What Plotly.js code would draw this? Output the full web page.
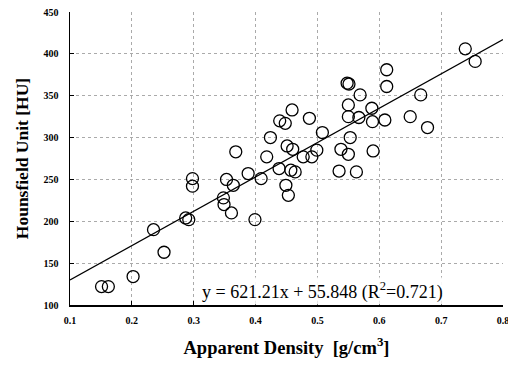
<!DOCTYPE html>
<html>
<head>
<meta charset="utf-8">
<script src="https://cdn.plot.ly/plotly-3.0.1.min.js"></script>
<style>html,body{margin:0;padding:0;background:#fff;}#chart{width:508px;height:368px;}</style>
</head>
<body>
<div id="chart"></div>
<script>
const densityX = [0.151,0.162,0.202,0.235,0.252,0.287,0.292,0.298,0.298,0.348,0.349,0.353,0.361,0.364,0.368,0.388,0.399,0.409,0.418,0.424,0.438,0.439,0.448,0.449,0.451,0.453,0.457,0.459,0.460,0.464,0.477,0.487,0.491,0.499,0.508,0.535,0.538,0.548,0.551,0.550,0.550,0.550,0.553,0.563,0.567,0.569,0.588,0.589,0.590,0.609,0.612,0.612,0.650,0.667,0.678,0.739,0.755];
const hounsfieldY = [122,122,134,190,163,204,202,251,242,228,220,250,210,243,283,257,202,251,277,300,263,320,317,243,290,231,261,333,286,259,277,323,277,285,306,260,286,365,364,339,325,280,300,259,324,351,335,319,284,321,361,381,325,351,312,406,391];
const trendX = [0.1, 0.8];
const trendY = [130, 417];
const xTicks = [0.1,0.2,0.3,0.4,0.5,0.6,0.7,0.8];
const yTicks = [100,150,200,250,300,350,400,450];
const equationText = 'y = 621.21x + 55.848 (R<sup>2</sup>=0.721)';

const serif = 'Liberation Serif, Times New Roman, serif';
const traces = [
  {x: trendX, y: trendY, mode: 'lines', line: {color: '#000', width: 1.3}, hoverinfo: 'skip'},
  {x: densityX, y: hounsfieldY, mode: 'markers', marker: {symbol: 'circle-open', size: 12, color: '#000', line: {width: 1.3, color: '#000'}}}
];
const layout = {
  width: 508, height: 368,
  margin: {l: 70, r: 5, t: 12, b: 63},
  paper_bgcolor: '#fff', plot_bgcolor: '#fff',
  showlegend: false,
  font: {family: serif, color: '#000'},
  xaxis: {
    range: [0.1, 0.8], tickvals: xTicks, ticktext: xTicks.map(v => v.toFixed(1)),
    ticklabeloverflow: 'allow', ticklabelstandoff: 5,
    showline: true, linecolor: '#000', linewidth: 1.5,
    ticks: 'inside', ticklen: 4, tickcolor: '#000',
    showgrid: true, gridcolor: '#aaa', griddash: 'dot', gridwidth: 1,
    zeroline: false,
    tickfont: {family: serif, size: 10, color: '#000', weight: 'bold'},
    title: {text: 'Apparent Density  [g/cm<sup>3</sup>]', font: {family: serif, size: 18.5, color: '#000', weight: 'bold'}, standoff: 16}
  },
  yaxis: {
    range: [100, 450], tickvals: yTicks,
    ticklabelstandoff: 8,
    showline: true, linecolor: '#000', linewidth: 1.5,
    ticks: 'inside', ticklen: 4, tickcolor: '#000',
    showgrid: true, gridcolor: '#aaa', griddash: 'dot', gridwidth: 1,
    zeroline: false,
    tickfont: {family: serif, size: 10, color: '#000', weight: 'bold'},
    title: {text: 'Hounsfield Unit [HU]', font: {family: serif, size: 17.5, color: '#000', weight: 'bold'}, standoff: 10}
  },
  annotations: [{
    xref: 'paper', yref: 'paper', x: 0.584, y: 0.0, xanchor: 'center', yanchor: 'bottom',
    text: equationText, showarrow: false, bgcolor: 'rgba(255,255,255,0.9)',
    font: {family: serif, size: 18, color: '#000'}
  }]
};
Plotly.newPlot('chart', traces, layout, {displayModeBar: false, staticPlot: true});
</script>
</body>
</html>
